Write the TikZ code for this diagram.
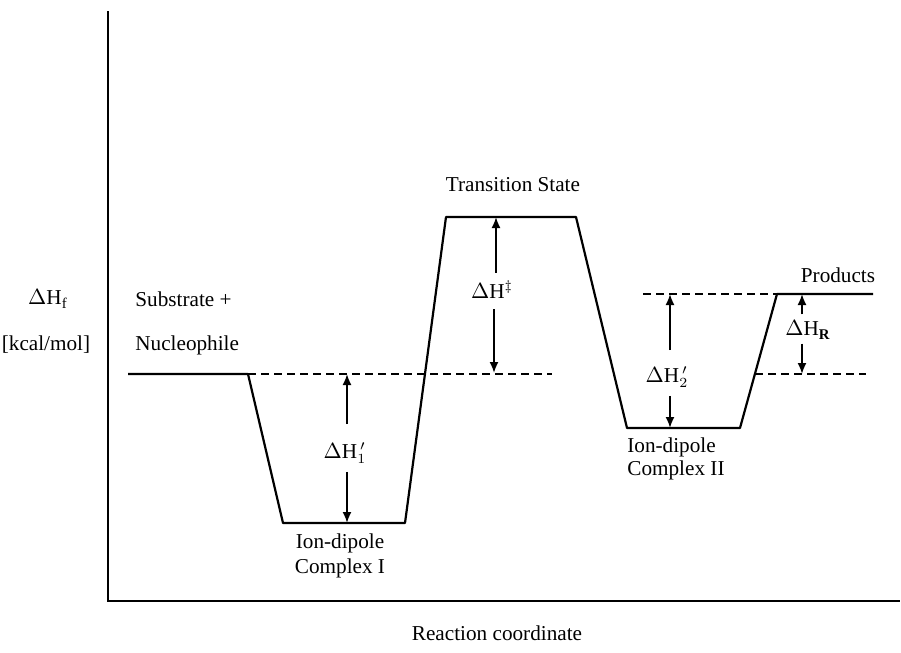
\documentclass[tikz,border=0pt]{standalone}
\usepackage{fontspec}
\setmainfont{Liberation Serif}
\usetikzlibrary{arrows.meta}

\begin{document}
\begin{tikzpicture}[x=0.5pt,y=-0.5pt]

% GLOBAL SETTINGS
\tikzset{
  level/.style={line width=1.1pt, line join=round},
  reflevel/.style={line width=0.9pt, dash pattern=on 4pt off 2.5pt},
  gap/.style={line width=0.9pt, -{Latex[length=5.5pt,width=4.5pt]}},
  lbl/.style={font=\fontsize{10.6}{12}\selectfont, inner sep=1pt},
}
\useasboundingbox (0,0) rectangle (901,653);

% AXES
\draw[line width=0.7pt] (108,11) -- (108,601) -- (900,601);

% PROFILE CORNERS
\path (128,374) coordinate (s0)  (248,374) coordinate (s1)
      (283,523) coordinate (c1a) (405,523) coordinate (c1b)
      (446,217) coordinate (tsa) (576,217) coordinate (tsb)
      (627,428) coordinate (c2a) (740,428) coordinate (c2b)
      (777,294) coordinate (pa)  (873,294) coordinate (pb);
% helper coordinates (ends of the dashed levels)
\path (552,374) coordinate (sR)
      (643,294) coordinate (pL)
      (755,374) coordinate (qL) (866,374) coordinate (qR);

\draw[level] (s0) -- (s1) -- (c1a) -- (c1b) -- (tsa) -- (tsb)
             -- (c2a) -- (c2b) -- (pa) -- (pb);
\draw[reflevel] (s1) -- (sR);
\draw[reflevel] (pL) -- (pa);
\draw[reflevel] (qL) -- (qR);

% LABELS
\node[lbl] (ts) at (513,185) {Transition State};
\node[lbl] (prod) at (838,275) {Products};
\node[lbl, anchor=west] (sub) at (133,299) {Substrate +};
\node[lbl, anchor=west] (nuc) at (133,345) {Nucleophile};
\node[lbl] (dhf) at (48,299) {\(\Delta\)H\(_{\mathrm{f}}\)};
\node[lbl] (unit) at (46,345) {[kcal/mol]};
\node[lbl, align=center, font=\fontsize{10.6}{12.5}\selectfont] (cx1) at (340,556) {Ion-dipole\\Complex I};
\node[lbl, align=left, anchor=west, font=\fontsize{10.6}{11.5}\selectfont] (cx2) at (625,459) {Ion-dipole\\Complex II};
\node[lbl] (rc) at (497,633) {Reaction coordinate};

% ENTHALPY GAPS
\node[lbl] (d1) at (345,453) {\(\Delta\)H\(_1^{\,\prime}\)};
\node[lbl] (dts) at (492,290) {\(\Delta\)H\(^{\ddagger}\)};
\node[lbl] (d2) at (667,377) {\(\Delta\)H\(_2^{\,\prime}\)};
\node[lbl] (dr) at (808,330) {\(\Delta\)H\(_{\mathbf{R}}\)};

\path (347,374) coordinate (d1t) (347,523) coordinate (d1b)
      (496,217) coordinate (dtst) (494,373) coordinate (dtsb)
      (670,294) coordinate (d2t) (670,428) coordinate (d2b)
      (802,294) coordinate (drt) (802,374) coordinate (drb);

\draw[gap, shorten <=8pt] (d1t |- d1.north) -- (d1t);
\draw[gap, shorten <=3pt] (d1b |- d1.south) -- (d1b);
\draw[gap, shorten <=3pt] (dtst |- dts.north) -- (dtst);
\draw[gap, shorten <=4pt] (dtsb |- dts.south) -- (dtsb);
\draw[gap, shorten <=7pt] (d2t |- d2.north) -- (d2t);
\draw[gap, shorten <=3pt] (d2b |- d2.south) -- (d2b);
\draw[gap, shorten <=2pt] (drt |- dr.north) -- (drt);
\draw[gap, shorten <=1pt] (drb |- dr.south) -- (drb);

\end{tikzpicture}
\end{document}
